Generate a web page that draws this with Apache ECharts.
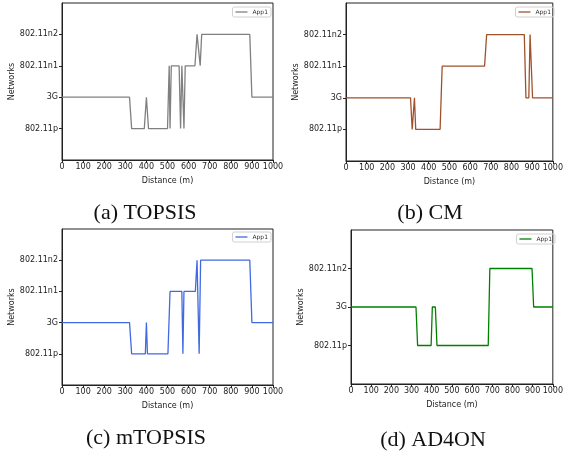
<!DOCTYPE html>
<html lang="en">
<head>
    <meta charset="UTF-8">
    <title>Networks vs distance</title>
    <style>
        html, body { margin: 0; padding: 0; background: #fff; }
        #main { width: 566px; height: 454px; }
    </style>
</head>
<body>
<div id="main"></div>
<script src="https://cdn.jsdelivr.net/npm/echarts@6/dist/echarts.min.js"></script>
<script>
    // network levels (bottom to top)
    var netsFour = ['802.11p', '3G', '802.11n1', '802.11n2'];
    var netsThree = ['802.11p', '3G', '802.11n2'];

    // (a) TOPSIS
    var topsisDist = [0, 320, 330, 390, 400, 410, 500, 508, 512, 518, 555, 562, 568, 572, 578, 584, 630, 640, 645, 655, 662, 890, 900, 1000];
    var topsisNet = ['3G', '3G', '802.11p', '802.11p', '3G', '802.11p', '802.11p', '802.11n1', '802.11p', '802.11n1', '802.11n1', '802.11p', '802.11n1', '802.11n1', '802.11p', '802.11n1', '802.11n1', '802.11n2', '802.11n2', '802.11n1', '802.11n2', '802.11n2', '3G', '3G'];

    // (b) CM
    var cmDist = [0, 312, 320, 325, 331, 337, 455, 465, 670, 680, 862, 870, 884, 890, 895, 902, 1000];
    var cmNet = ['3G', '3G', '802.11p', '802.11p', '3G', '802.11p', '802.11p', '802.11n1', '802.11n1', '802.11n2', '802.11n2', '3G', '3G', '802.11n2', '802.11n2', '3G', '3G'];

    // (c) mTOPSIS
    var mtopsisDist = [0, 320, 330, 395, 400, 405, 502, 512, 568, 573, 578, 632, 640, 643, 650, 657, 890, 900, 1000];
    var mtopsisNet = ['3G', '3G', '802.11p', '802.11p', '3G', '802.11p', '802.11p', '802.11n1', '802.11n1', '802.11p', '802.11n1', '802.11n1', '802.11n2', '802.11n2', '802.11p', '802.11n2', '802.11n2', '3G', '3G'];

    // (d) AD4ON
    var ad4onDist = [0, 322, 330, 397, 403, 418, 426, 680, 688, 897, 905, 1000];
    var ad4onNet = ['3G', '3G', '802.11p', '802.11p', '3G', '3G', '802.11p', '802.11p', '802.11n2', '802.11n2', '3G', '3G'];

    var panels = [
        { name: 'TOPSIS', caption: '(a) TOPSIS', dist: topsisDist, net: topsisNet, nets: netsFour, color: '#808080',
          grid: { left: 62, top: 3, width: 211, height: 157 }, legendRight: 295, legendTop: 7, cap: [145, 213] },
        { name: 'CM', caption: '(b) CM', dist: cmDist, net: cmNet, nets: netsFour, color: '#a0522d',
          grid: { left: 346, top: 3, width: 211, height: 158 }, legendRight: 12, legendTop: 7, cap: [430, 213] },
        { name: 'mTOPSIS', caption: '(c) mTOPSIS', dist: mtopsisDist, net: mtopsisNet, nets: netsFour, color: '#4169e1',
          grid: { left: 62, top: 229, width: 211, height: 156 }, legendRight: 295, legendTop: 232, cap: [146, 438] },
        { name: 'AD4ON', caption: '(d) AD4ON', dist: ad4onDist, net: ad4onNet, nets: netsThree, color: '#008000',
          grid: { left: 351, top: 230, width: 206, height: 154 }, legendRight: 11, legendTop: 234, cap: [433, 440] }
    ];

    var axisFont = 'DejaVu Sans';
    var option = { animation: false, grid: [], xAxis: [], yAxis: [], series: [], legend: [], graphic: [] };

    panels.forEach(function (p, i) {
        var g = p.grid;
        option.grid.push({ left: g.left, top: g.top, width: g.width, height: g.height,
            show: true, borderColor: '#222', borderWidth: 1, containLabel: false });

        option.xAxis.push({
            type: 'value', gridIndex: i, min: 0, max: 1000, interval: 100,
            name: 'Distance (m)', nameLocation: 'middle', nameGap: 17,
            nameTextStyle: { fontFamily: axisFont, fontSize: 8, color: '#222' },
            axisLine: { show: true, onZero: false, lineStyle: { color: '#222', width: 1 } },
            axisTick: { show: true, length: 3, lineStyle: { color: '#222' } },
            axisLabel: { fontFamily: axisFont, fontSize: 8, color: '#222', margin: 3, showMaxLabel: true,
                formatter: function (v) { return String(v); } },
            splitLine: { show: false }
        });

        var ticks = p.nets.map(function (n, k) { return k; });
        option.yAxis.push({
            type: 'value', gridIndex: i, min: -1, max: p.nets.length, interval: 1,
            name: 'Networks', nameLocation: 'middle', nameGap: 44,
            nameTextStyle: { fontFamily: axisFont, fontSize: 8, color: '#222' },
            axisLine: { show: true, onZero: false, lineStyle: { color: '#222', width: 1 } },
            axisTick: { show: true, length: 3, customValues: ticks, lineStyle: { color: '#222' } },
            axisLabel: { fontFamily: axisFont, fontSize: 8, color: '#222', margin: 4, customValues: ticks,
                formatter: function (v) { return p.nets[v] || ''; } },
            splitLine: { show: false }
        });

        option.series.push({
            name: p.name, type: 'line', xAxisIndex: i, yAxisIndex: i,
            symbol: 'none', lineStyle: { color: p.color, width: 1.3 }, itemStyle: { color: p.color },
            data: p.dist.map(function (d, k) { return [d, p.nets.indexOf(p.net[k])]; })
        });

        option.legend.push({
            data: [{ name: p.name, icon: 'rect' }], right: p.legendRight, top: p.legendTop,
            formatter: function () { return 'App1'; },
            itemWidth: 12, itemHeight: 1.3, itemGap: 3,
            padding: [2, 3, 2, 3], borderColor: '#d0d0d0', borderWidth: 1, borderRadius: 2,
            textStyle: { fontFamily: axisFont, fontSize: 6, color: '#333' },
            selectedMode: false
        });

        // captions are placed by their centre
        option.graphic.push({
            type: 'text', x: p.cap[0], y: p.cap[1],
            style: { text: p.caption, font: '22px "Liberation Serif"', fill: '#111',
                align: 'center', verticalAlign: 'middle' }
        });
    });

    var myChart = echarts.init(document.getElementById('main'));
    myChart.setOption(option);
</script>
</body>
</html>
